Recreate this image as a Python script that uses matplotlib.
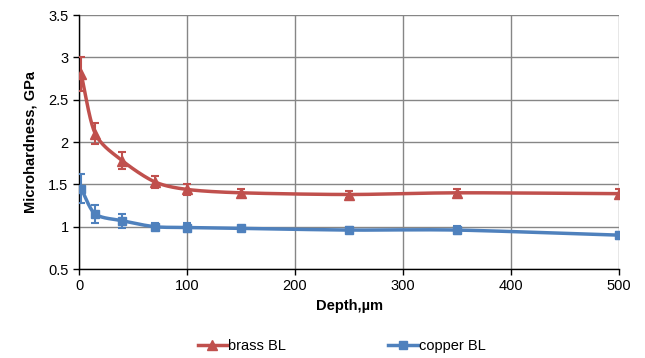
import numpy as np
import matplotlib
matplotlib.use("Agg")
import matplotlib.pyplot as plt

plt.rcParams["font.family"] = ["Liberation Sans", "DejaVu Sans"]

depth = [2, 15, 40, 70, 100, 150, 250, 350, 500]
brass = [2.80, 2.10, 1.78, 1.53, 1.44, 1.40, 1.38, 1.40, 1.39]
brass_err = [0.20, 0.12, 0.10, 0.07, 0.06, 0.05, 0.04, 0.04, 0.05]
copper = [1.45, 1.15, 1.07, 1.00, 0.99, 0.98, 0.96, 0.96, 0.90]
copper_err = [0.17, 0.11, 0.08, 0.04, 0.05, 0.03, 0.04, 0.05, 0.04]

xticks = [0, 100, 200, 300, 400, 500]
yticks = [0.5, 1, 1.5, 2, 2.5, 3, 3.5]

C_BRASS = "#C0504D"
C_COPPER = "#4F81BD"

fig = plt.figure(figsize=(6.45, 3.58), dpi=100)
ax = fig.add_axes([0.1225, 0.2486, 0.8372, 0.7094])


def smooth(x, y, sx, sy, n=30):
    # Catmull-Rom spline in screen-scaled space (like Excel smoothed line)
    P = np.column_stack([np.array(x, float) * sx, np.array(y, float) * sy])
    P = np.vstack([P[0] - (P[1] - P[0]), P, P[-1] + (P[-1] - P[-2])])
    out = []
    for i in range(1, len(P) - 2):
        p0, p1, p2, p3 = P[i - 1], P[i], P[i + 1], P[i + 2]
        t = np.linspace(0, 1, n, endpoint=False)[:, None]
        m1 = (p2 - p0) / 2 * 0.85
        m2 = (p3 - p1) / 2 * 0.85
        h00 = 2 * t**3 - 3 * t**2 + 1
        h10 = t**3 - 2 * t**2 + t
        h01 = -2 * t**3 + 3 * t**2
        h11 = t**3 - t**2
        out.append(h00 * p1 + h10 * m1 + h01 * p2 + h11 * m2)
    out.append(P[-2][None, :])
    out = np.vstack(out)
    return out[:, 0] / sx, out[:, 1] / sy

sx = 540 / 500.0
sy = 254 / 3.0

for y, e, c, m, ms, lab in [(brass, brass_err, C_BRASS, "^", 6.5, "brass BL"),
                              (copper, copper_err, C_COPPER, "s", 5.5, "copper BL")]:
    xs, ys = smooth(depth, y, sx, sy)
    ax.plot(xs, ys, color=c, lw=2.5, zorder=3)
    ax.errorbar(depth, y, yerr=e, fmt="none", ecolor=c, elinewidth=1.5,
                capsize=3, capthick=1.5, zorder=4)
    ax.plot(depth, y, linestyle="none", marker=m, ms=ms, color=c, zorder=5)
    ax.plot([], [], color=c, lw=2.5, marker=m, ms=ms, label=lab)

ax.set_xlim(0, 500)
ax.set_ylim(0.5, 3.5)
ax.set_xticks(xticks)
ax.set_yticks(yticks)
ax.set_yticklabels([f"{v:g}" for v in yticks])
ax.grid(True, color="#868686", lw=1.0)
ax.set_axisbelow(True)
for s in ["top", "right"]:
    ax.spines[s].set_visible(False)
ax.spines["left"].set_linewidth(1.0)
ax.spines["bottom"].set_linewidth(1.0)
ax.tick_params(axis="both", labelsize=10.5, length=4, width=1, colors="black")
ax.tick_params(axis="y", direction="out")

ax.set_xlabel("Depth,µm", fontsize=10.5, fontweight="bold", labelpad=4)
ax.set_ylabel("Microhardness, GPa", fontsize=10.5, fontweight="bold", labelpad=8)

fig.legend(loc="center", bbox_to_anchor=(0.53, 0.033), ncol=2, frameon=False,
           fontsize=10.5, handlelength=2.0, handletextpad=0.1, columnspacing=7.0)

fig.savefig("out.png", dpi=100)
